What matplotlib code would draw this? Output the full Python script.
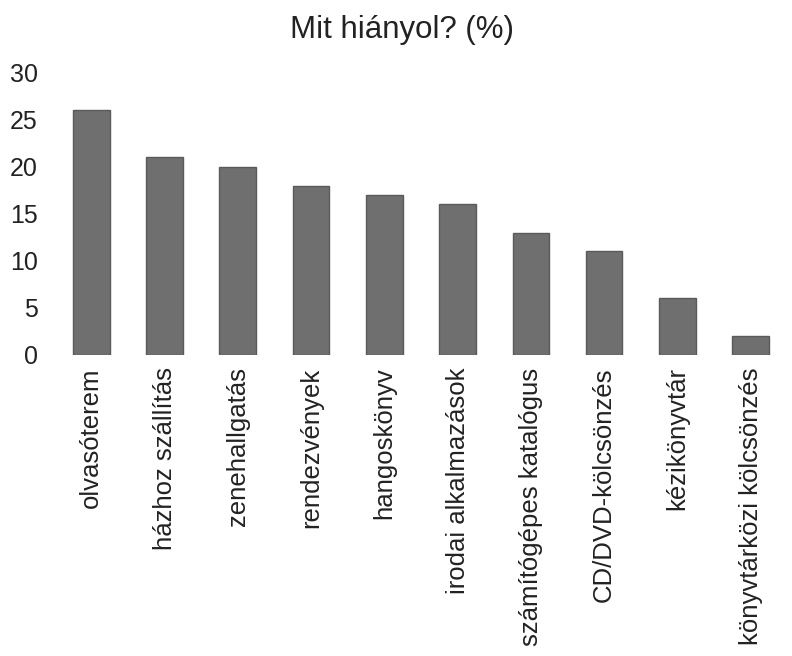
import matplotlib
matplotlib.use("Agg")
import matplotlib.pyplot as plt
import numpy as np

plt.rcParams['font.family'] = ['Liberation Sans', 'DejaVu Sans']

categories = ['olvasóterem', 'házhoz szállítás', 'zenehallgatás', 'rendezvények',
              'hangoskönyv', 'irodai alkalmazások', 'számítógépes katalógus',
              'CD/DVD-kölcsönzés', 'kézikönyvtár', 'könyvtárközi kölcsönzés']
values = [26, 21, 20, 18, 17, 16, 13, 11, 6, 2]
y_ticks = [0, 5, 10, 15, 20, 25, 30]

fig = plt.figure(figsize=(7.92, 6.56), dpi=100)
ax = fig.add_axes([0.069, 0.459, 0.925, 0.43])

x = np.arange(len(categories))
ax.bar(x, values, width=0.5, color='#6f6f6f', edgecolor='#5a5a5a', linewidth=1)

ax.set_xlim(-0.5, len(categories) - 0.5)
ax.set_ylim(0, 30)
ax.set_yticks(y_ticks)
ax.set_yticklabels([str(t) for t in y_ticks], fontsize=18, color='#222222')
ax.set_xticks(x)
ax.set_xticklabels(categories, rotation=90, fontsize=18.5, color='#222222')
ax.tick_params(length=0, pad=9)
ax.tick_params(axis='y', pad=12)
for s in ax.spines.values():
    s.set_visible(False)

# title sits a bit left of the axes centre in the original
fig.text(0.508, 0.955, 'Mit hiányol? (%)', fontsize=22.5, color='#222222',
         ha='center', va='center')

plt.savefig('out.png', dpi=100)
